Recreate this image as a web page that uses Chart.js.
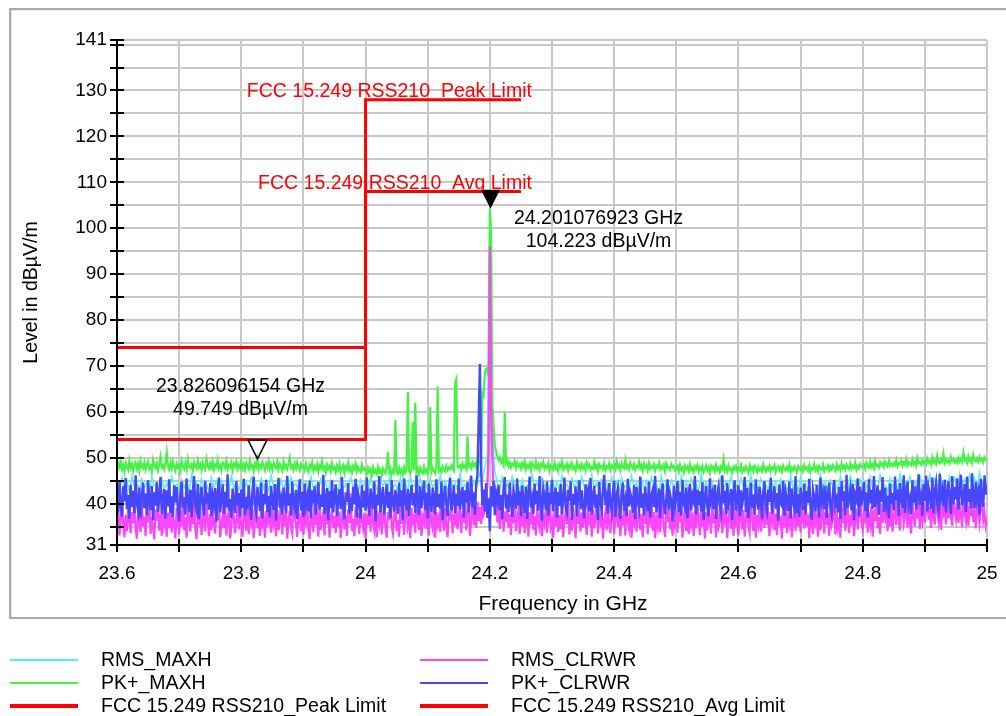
<!DOCTYPE html>
<html>
<head>
<meta charset="utf-8">
<title>Spectrum 23.6 - 25 GHz</title>
<script src="https://cdn.jsdelivr.net/npm/chart.js@4.4.1/dist/chart.umd.min.js"></script>
<style>
  body { margin: 0; background: #fff; font-family: "Liberation Sans", Arial, sans-serif; }
  #wrap { position: relative; width: 1006px; height: 716px; overflow: hidden; }
  #frame { position: absolute; left: 9px; top: 8px; width: 1010px; height: 607px;
           border: 2px solid #ababab; border-right: none; box-shadow: inset 1px 1px 0 #e6e6e6; }
  #spectrum { position: absolute; left: 0; top: 0; }
  #legend { position: absolute; left: 0; top: 648px; width: 1006px; }
  .item { position: absolute; height: 23px; display: flex; align-items: center; font-size: 19.5px; color: #000; }
  .item span.swatch { display: inline-block; width: 68px; margin-right: 23px; }
</style>
</head>
<body>
<div id="wrap">
  <div id="frame"></div>
  <canvas id="spectrum" width="1006" height="716"></canvas>
  <div id="legend"></div>
</div>
<script>
// sweep 23.6 .. 25 GHz; readings are spread evenly over the span
const F_START = 23.6;
const F_STOP = 25.0;

// RMS detector, max hold (4 MHz steps)
const rmsMaxh = [
  44.2, 42.8, 45.6, 43.1, 44.9, 42.5, 46.0, 43.7, 44.4, 42.9, 45.3, 43.4, 44.7, 42.6, 45.8, 43.9, 44.1, 42.7, 45.5, 43.2, 44.6, 43.0, 45.9, 43.6, 44.3,
  42.9, 45.2, 43.5, 44.8, 42.4, 46.2, 43.8, 44.5, 42.7, 45.4, 43.3, 44.0, 42.8, 45.7, 43.6, 44.9, 42.5, 45.1, 43.9, 44.3, 42.6, 46.1, 43.4, 44.7, 43.0,
  45.0, 43.2, 44.6, 42.7, 45.8, 43.9, 44.2, 42.5, 45.5, 43.4, 44.8, 42.9, 46.3, 43.6, 44.1, 42.8, 45.2, 43.1, 44.9, 42.6, 45.7, 43.8, 44.4, 42.7, 45.3,
  43.5, 44.7, 42.6, 45.9, 43.3, 44.2, 42.8, 45.4, 43.7, 44.6, 42.5, 45.1, 43.9, 44.0, 42.7, 46.0, 43.2, 44.5, 42.9, 45.6, 43.6, 44.3, 42.4, 45.2, 43.8,
  44.6, 42.9, 45.7, 43.3, 44.1, 42.6, 45.4, 43.8, 44.9, 42.7, 46.4, 43.5, 44.3, 42.8, 45.6, 43.1, 44.7, 42.5, 45.9, 43.7, 44.2, 42.9, 45.3, 43.4, 44.8,
  42.7, 45.5, 43.6, 44.4, 42.8, 46.1, 43.2, 44.9, 42.6, 45.8, 43.9, 44.5, 42.9, 46.6, 43.4, 44.2, 42.7, 45.4, 43.8, 45.0, 44.1, 46.8, 45.2, 48.0, 50.5,
  103.5, 56.0, 47.0, 44.6, 43.0, 45.7, 43.5, 44.3, 42.8, 45.9, 43.7, 44.8, 42.6, 45.2, 43.3, 44.0, 42.9, 46.2, 43.6, 44.5, 42.7, 45.6, 43.9, 44.2, 42.8,
  45.4, 43.2, 44.7, 42.6, 46.0, 43.8, 44.3, 42.9, 45.5, 43.4, 44.9, 42.7, 45.8, 43.6, 44.1, 42.5, 46.3, 43.1, 44.6, 42.8, 45.2, 43.9, 44.4, 42.6, 45.7,
  43.3, 44.8, 42.9, 45.6, 43.5, 44.2, 42.7, 46.1, 43.8, 44.5, 42.6, 45.3, 43.2, 44.9, 42.8, 45.8, 43.6, 44.0, 42.5, 46.0, 43.4, 44.6, 42.9, 45.1, 43.7,
  44.4, 42.7, 45.9, 43.1, 44.8, 42.6, 45.5, 43.9, 44.2, 42.8, 46.4, 43.4, 44.6, 42.5, 45.3, 43.7, 44.0, 42.9, 45.7, 43.2, 44.7, 42.6, 46.0, 43.5, 44.3,
  42.8, 45.6, 43.6, 44.5, 42.7, 46.2, 43.3, 44.8, 42.6, 45.4, 43.8, 44.1, 42.9, 45.9, 43.4, 44.7, 42.5, 45.2, 43.7, 44.3, 42.8, 46.1, 43.2, 44.9, 42.6,
  45.7, 43.5, 44.4, 42.8, 45.5, 43.9, 44.2, 42.6, 46.3, 43.2, 44.9, 42.7, 45.1, 43.6, 44.6, 42.9, 45.8, 43.4, 44.0, 42.5, 46.0, 43.8, 44.5, 42.7, 45.3,
  43.6, 44.7, 42.9, 45.9, 43.3, 44.4, 42.8, 46.2, 43.9, 44.1, 42.6, 45.6, 43.5, 44.8, 43.0, 46.4, 43.7, 44.3, 42.9, 45.8, 43.4, 44.9, 43.1, 46.1, 43.8,
  45.0, 43.5, 46.3, 44.1, 45.4, 43.2, 46.6, 44.3, 45.1, 43.6, 46.0, 44.5, 45.7, 43.4, 46.5, 44.0, 45.3, 43.8, 46.2, 44.4, 45.6, 43.3, 46.8, 44.2, 45.5,
  44.6
];

// positive peak detector, max hold (2 MHz steps)
const pkMaxh = [
  47.3, 48.8, 47.9, 49.2, 47.5, 48.4, 46.9, 48.9, 48.1, 47.4, 49.4, 47.8, 48.6, 47.1, 48.3, 49.0, 47.6, 48.7, 47.2, 49.3, 48.0, 47.7, 48.9, 47.4, 48.5,
  49.1, 47.6, 48.2, 47.0, 49.5, 48.4, 47.8, 48.8, 47.3, 48.6, 50.2, 47.9, 48.3, 47.5, 49.0, 51.2, 48.1, 47.4, 48.9, 47.7, 49.2, 48.0, 47.2, 48.7, 47.9,
  48.4, 47.1, 49.3, 48.2, 47.6, 48.8, 47.4, 49.6, 48.0, 47.8, 48.5, 47.2, 49.0, 48.3, 47.7, 49.4, 47.9, 48.6, 47.3, 48.9, 48.1, 47.5, 49.7, 48.2, 47.6,
  48.8, 47.9, 49.2, 47.4, 48.5, 48.0, 49.5, 47.7, 48.3, 47.2, 49.0, 48.6, 47.8, 49.3, 47.5, 48.4, 47.9, 48.9, 47.3, 48.7, 48.1, 49.1, 47.6, 48.5, 47.8,
  49.2, 47.7, 48.6, 47.4, 48.9, 48.2, 47.6, 49.4, 47.9, 48.3, 47.1, 48.8, 48.0, 49.6, 47.5, 48.4, 47.8, 49.0, 48.2, 47.3, 48.7, 47.9, 49.3, 47.6, 48.5,
  47.4, 48.9, 48.1, 47.7, 49.1, 47.5, 48.6, 48.0, 47.2, 49.2, 47.8, 48.4, 47.6, 48.8, 50.0, 47.9, 48.3, 47.4, 48.7, 47.7, 49.0, 48.1, 47.3, 48.6, 47.9,
  48.2, 47.3, 48.7, 47.6, 46.9, 48.4, 47.8, 49.0, 47.2, 48.1, 47.5, 48.6, 47.0, 48.3, 47.7, 49.2, 47.4, 48.0, 46.8, 48.5, 47.6, 48.2, 47.1, 48.8, 47.5,
  47.9, 46.9, 48.3, 47.4, 48.6, 47.0, 47.8, 48.4, 46.7, 48.1, 47.5, 48.9, 47.2, 47.9, 46.8, 48.2, 47.6, 48.7, 47.0, 48.0, 47.3, 46.9, 48.5, 47.4, 47.8,
  47.2, 46.4, 47.8, 46.9, 47.5, 46.3, 47.9, 46.7, 47.3, 46.5, 48.0, 46.8, 47.4, 46.2, 47.7, 47.0, 46.6, 48.1, 51.3, 46.9, 47.6, 46.4, 47.3, 46.8, 58.2,
  47.0, 46.5, 47.8, 46.7, 47.4, 46.3, 47.9, 46.8, 47.5, 64.4, 47.1, 46.6, 47.7, 57.8, 47.3, 62.0, 46.9, 47.6, 46.4, 47.8, 47.0, 46.6, 48.0, 46.8, 47.4,
  46.7, 47.5, 61.0, 46.9, 47.8, 47.1, 46.6, 47.9, 65.6, 47.2, 47.7, 46.9, 48.1, 47.4, 47.0, 48.2, 47.3, 47.9, 47.5, 48.3, 47.6, 47.2, 66.2, 67.1, 48.0,
  47.8, 48.4, 47.5, 48.7, 47.9, 48.3, 47.6, 54.7, 48.1, 48.6, 47.8, 49.0, 48.2, 48.8, 48.0, 49.3, 48.5, 50.5, 49.2, 64.0, 63.5, 68.8, 69.3, 68.6, 70.5,
  104.2, 99.0, 62.0, 56.5, 52.8, 51.4, 50.3, 49.5, 50.1, 48.9, 49.6, 48.6, 60.0, 48.8, 49.3, 48.2, 49.0, 47.9, 48.7, 48.3, 49.2, 47.8, 48.9, 48.1, 48.6,
  47.6, 48.8, 48.0, 49.1, 47.5, 48.4, 47.9, 48.7, 47.3, 48.9, 48.2, 47.7, 49.2, 47.8, 48.5, 47.4, 48.6, 48.1, 49.0, 47.6, 48.3, 47.9, 48.8, 47.2, 48.4,
  48.0, 47.5, 48.9, 47.7, 48.3, 47.1, 48.6, 48.0, 49.1, 47.4, 48.2, 47.8, 48.7, 47.3, 48.5, 47.9, 48.8, 47.6, 48.1, 47.2, 48.9, 47.8, 48.4, 47.5, 48.6,
  47.7, 48.3, 47.2, 48.9, 47.9, 48.5, 47.4, 48.0, 47.6, 49.0, 47.8, 48.4, 47.1, 48.6, 47.9, 48.2, 47.5, 48.8, 47.3, 48.1, 47.7, 48.7, 47.4, 48.3, 47.8,
  48.5, 47.6, 49.2, 47.9, 48.4, 47.3, 48.8, 48.0, 47.7, 49.5, 47.8, 48.3, 47.5, 48.9, 48.1, 47.6, 48.6, 47.4, 48.2, 47.9, 49.1, 47.7, 48.4, 47.2, 48.7,
  47.9, 48.4, 47.3, 48.8, 47.6, 48.1, 47.8, 48.6, 47.2, 48.3, 47.9, 48.9, 47.5, 48.2, 47.7, 48.5, 47.1, 48.7, 47.8, 48.0, 47.4, 48.6, 47.9, 48.2, 47.3,
  47.7, 48.2, 47.0, 48.5, 47.4, 47.9, 46.8, 48.3, 47.5, 48.0, 47.1, 48.6, 47.3, 47.8, 46.9, 48.1, 47.6, 48.4, 47.0, 47.9, 47.4, 48.2, 46.9, 47.7, 48.3,
  47.2, 47.9, 46.7, 48.2, 47.5, 48.0, 47.1, 48.4, 47.3, 47.8, 46.9, 48.1, 47.6, 49.6, 47.2, 47.9, 47.0, 48.3, 47.4, 47.7, 46.8, 48.0, 47.5, 48.2, 47.1,
  47.8, 47.3, 48.4, 46.9, 47.7, 47.2, 48.1, 47.5, 46.8, 48.3, 47.4, 47.9, 47.0, 48.2, 47.6, 46.9, 48.0, 47.3, 47.8, 47.1, 48.5, 47.5, 47.0, 47.9, 47.4,
  48.2, 47.1, 47.8, 47.5, 48.4, 46.9, 47.7, 48.1, 47.3, 47.9, 47.0, 48.3, 47.6, 47.2, 48.0, 47.4, 48.5, 46.9, 47.8, 47.3, 48.1, 47.5, 46.8, 48.2, 47.6,
  47.4, 48.0, 47.1, 48.4, 47.6, 47.9, 47.2, 48.3, 46.9, 47.8, 47.5, 48.6, 47.3, 48.0, 47.0, 48.2, 47.7, 47.4, 48.5, 47.1, 47.9, 47.6, 48.3, 47.2, 48.1,
  47.5, 48.4, 47.8, 47.2, 48.6, 47.6, 48.1, 47.3, 48.8, 47.7, 48.2, 47.4, 48.5, 47.9, 47.5, 48.7, 47.6, 48.3, 47.8, 48.9, 47.4, 48.2, 47.7, 48.6, 48.0,
  47.9, 48.5, 47.6, 48.9, 48.1, 47.8, 49.1, 48.0, 48.6, 47.7, 49.3, 48.2, 48.4, 47.9, 49.0, 48.3, 48.8, 48.0, 49.2, 48.5, 48.1, 49.4, 48.3, 48.7, 48.2,
  48.9, 48.4, 49.5, 48.1, 48.8, 48.6, 49.3, 48.2, 49.0, 48.5, 49.7, 48.3, 49.1, 48.7, 48.4, 49.6, 48.6, 49.2, 48.3, 49.9, 48.8, 49.0, 48.5, 49.4, 48.7,
  49.2, 48.6, 49.8, 48.9, 49.3, 48.5, 50.1, 49.0, 49.5, 48.7, 50.4, 49.1, 48.8, 49.7, 49.2, 50.9, 48.9, 49.6, 49.0, 49.4, 48.8, 50.2, 49.3, 49.7, 49.0,
  49.5, 48.9, 50.0, 49.2, 49.8, 49.1, 51.1, 49.4, 49.7, 48.9, 50.3, 49.3, 49.9, 49.0, 50.6, 49.5, 49.2, 49.8, 49.1, 50.2, 49.4, 49.7, 49.0, 50.1, 49.6,
  49.4
];

// RMS detector, clear/write (2 MHz steps)
const rmsClrwr = [
  34.6, 38.9, 33.1, 36.8, 40.4, 35.2, 32.7, 37.5, 34.0, 39.3, 36.1, 33.6, 38.2, 35.7, 41.0, 34.4, 32.4, 37.9, 36.5, 33.8, 39.8, 35.0, 37.2, 32.9, 38.5,
  35.9, 40.7, 33.4, 37.0, 34.8, 32.2, 38.7, 36.3, 39.9, 34.1, 37.7, 33.0, 41.5, 35.4, 36.9, 32.8, 38.0, 34.6, 40.1, 33.7, 37.4, 35.8, 32.5, 39.1, 36.0,
  33.3, 38.4, 35.1, 40.9, 34.2, 37.1, 32.6, 39.5, 36.6, 33.9, 38.1, 35.5, 42.0, 34.5, 32.3, 37.6, 36.2, 39.2, 33.2, 35.9, 38.8, 34.0, 40.3, 36.7, 32.9,
  37.8, 34.3, 39.7, 35.6, 33.5, 38.3, 36.4, 41.2, 32.7, 35.3, 37.3, 34.7, 40.0, 33.1, 36.8, 38.6, 32.4, 35.0, 39.4, 37.0, 33.6, 36.1, 40.6, 34.4, 38.0,
  35.2, 32.8, 39.0, 36.9, 34.1, 40.8, 33.4, 37.7, 35.8, 38.9, 32.5, 36.3, 41.4, 34.6, 37.2, 33.0, 39.6, 35.4, 36.7, 32.6, 38.4, 34.9, 40.2, 36.0, 33.7,
  39.1, 35.7, 37.5, 32.9, 38.8, 34.2, 36.5, 41.1, 33.3, 37.9, 35.1, 39.8, 32.4, 36.2, 38.5, 34.8, 33.5, 40.5, 37.1, 35.6, 32.7, 38.2, 36.8, 34.0, 39.3,
  33.2, 37.6, 35.9, 40.0, 34.5, 32.3, 38.6, 36.4, 33.8, 41.7, 35.3, 37.0, 32.8, 39.5, 34.3, 36.6, 38.1, 33.1, 40.4, 35.5, 37.8, 32.6, 36.9, 39.0, 34.7,
  37.3, 33.6, 39.9, 35.0, 38.3, 32.5, 36.1, 40.8, 34.4, 37.4, 33.0, 38.7, 35.8, 42.2, 34.1, 36.7, 32.9, 39.2, 35.2, 37.9, 33.4, 40.1, 36.3, 34.6, 38.0,
  32.4, 37.7, 35.4, 39.6, 33.9, 41.3, 36.0, 34.2, 38.5, 32.7, 37.1, 35.7, 40.7, 33.3, 36.8, 39.4, 34.8, 32.6, 38.2, 36.4, 42.5, 35.1, 33.5, 37.5, 39.7,
  34.0, 36.5, 32.8, 40.3, 35.6, 38.6, 33.2, 37.3, 41.0, 34.9, 36.2, 32.5, 39.1, 35.3, 37.8, 33.7, 40.9, 36.6, 34.3, 38.8, 32.9, 37.0, 35.9, 41.6, 34.5,
  37.6, 33.1, 39.3, 36.1, 34.6, 40.5, 32.6, 38.1, 35.5, 37.2, 33.8, 41.2, 36.7, 34.1, 39.0, 35.0, 32.7, 38.4, 36.3, 40.2, 33.5, 37.7, 35.2, 39.8, 34.4,
  36.9, 40.6, 33.6, 38.0, 35.8, 42.3, 34.2, 37.4, 39.6, 33.0, 36.4, 41.8, 35.3, 38.9, 34.7, 40.4, 36.2, 39.3, 35.6, 41.1, 37.6, 38.5, 40.9, 44.0, 52.0,
  96.0, 60.0, 50.0, 43.0, 38.7, 41.4, 35.9, 39.8, 34.5, 37.1, 42.0, 33.9, 38.3, 36.0, 40.8, 34.8, 37.7, 33.2, 39.4, 35.7, 41.3, 34.0, 36.8, 38.6, 33.4,
  37.9, 35.1, 40.1, 33.6, 36.5, 39.0, 32.8, 38.2, 35.4, 41.5, 34.3, 37.3, 33.1, 39.7, 36.1, 34.7, 40.6, 32.9, 37.8, 35.8, 38.8, 33.7, 36.7, 42.1, 34.9,
  36.2, 32.6, 38.9, 35.0, 40.3, 33.8, 37.5, 34.4, 39.9, 32.7, 36.6, 38.4, 35.5, 41.9, 33.3, 37.0, 34.1, 39.2, 36.4, 32.5, 40.0, 35.6, 37.6, 33.9, 38.1,
  34.8, 39.5, 36.0, 33.2, 41.2, 35.3, 37.9, 32.8, 38.7, 34.6, 36.9, 40.5, 33.5, 37.2, 35.9, 39.1, 32.4, 36.3, 38.3, 34.2, 42.4, 35.7, 33.6, 37.8, 39.6,
  33.4, 36.8, 40.7, 34.9, 38.0, 32.9, 37.4, 35.2, 39.3, 33.1, 41.0, 36.1, 34.5, 38.6, 32.6, 37.1, 35.8, 40.4, 33.9, 36.5, 39.0, 34.3, 37.7, 32.7, 38.8,
  35.6, 39.8, 33.3, 37.3, 36.2, 41.6, 34.1, 38.2, 32.5, 36.7, 35.1, 40.2, 33.8, 37.6, 39.4, 34.7, 32.8, 38.5, 36.0, 41.4, 34.4, 37.0, 33.0, 39.7, 35.4,
  37.2, 33.7, 40.9, 35.9, 38.4, 32.6, 36.4, 39.2, 34.0, 37.9, 33.4, 41.8, 35.5, 36.9, 32.9, 38.7, 34.6, 40.0, 36.6, 33.2, 39.5, 35.0, 37.4, 32.4, 38.1,
  34.2, 39.0, 36.3, 33.5, 40.6, 35.7, 37.7, 32.7, 38.9, 34.9, 36.0, 42.0, 33.6, 37.2, 35.3, 39.9, 32.5, 36.8, 38.3, 34.5, 41.2, 33.0, 37.6, 35.8, 39.3,
  33.1, 37.0, 40.4, 34.4, 38.6, 32.8, 36.5, 39.6, 35.2, 33.7, 41.5, 36.7, 34.1, 38.0, 32.6, 37.5, 35.6, 40.1, 33.9, 36.2, 39.1, 34.7, 42.3, 35.4, 37.3,
  32.9, 38.2, 36.1, 39.8, 34.3, 37.8, 33.2, 41.1, 35.9, 36.6, 32.4, 38.8, 34.8, 40.3, 33.6, 37.1, 35.5, 39.4, 32.7, 36.9, 38.5, 34.0, 40.8, 35.1, 37.4,
  33.8, 39.7, 36.4, 34.6, 41.3, 35.0, 37.7, 32.5, 38.3, 36.0, 33.4, 40.0, 35.8, 37.2, 32.8, 39.1, 34.2, 36.7, 41.7, 33.5, 38.1, 35.3, 37.9, 33.0, 39.6,
  35.5, 36.8, 40.7, 33.3, 38.4, 34.9, 37.0, 32.6, 39.3, 35.7, 41.9, 34.1, 36.3, 38.9, 33.6, 37.6, 35.2, 40.4, 32.9, 36.5, 39.0, 34.4, 37.8, 42.6, 35.9,
  34.3, 38.0, 36.6, 40.9, 33.7, 37.3, 35.4, 39.5, 32.8, 38.7, 36.2, 41.6, 34.6, 37.1, 33.4, 39.9, 35.8, 38.2, 36.9, 42.0, 34.0, 37.7, 35.1, 40.5, 33.9,
  37.5, 39.2, 35.3, 41.3, 36.4, 34.2, 38.6, 40.1, 35.6, 37.0, 42.4, 34.8, 38.9, 36.0, 33.5, 40.6, 37.4, 35.0, 39.7, 36.8, 41.0, 34.5, 38.3, 36.3, 40.2,
  35.9, 38.4, 41.8, 36.5, 39.3, 34.7, 40.7, 37.2, 35.4, 42.7, 38.1, 36.1, 40.0, 34.3, 39.0, 37.8, 41.4, 35.5, 38.8, 36.9, 43.1, 37.1, 35.2, 40.4, 38.5,
  36.7, 41.2, 35.8, 39.6, 37.6, 34.9, 42.0, 38.0, 36.2, 40.8, 35.1, 39.4, 37.3, 41.9, 36.0, 38.7, 34.6, 40.3, 37.9, 35.7, 39.1, 41.5, 36.4, 38.2, 35.3,
  37.0
];

// positive peak detector, clear/write (2 MHz steps)
const pkClrwr = [
  42.6, 38.1, 44.9, 39.7, 37.2, 43.8, 40.5, 45.6, 38.8, 41.9, 36.7, 44.1, 39.3, 42.8, 37.9, 46.2, 40.1, 38.4, 43.5, 36.9, 41.7, 44.6, 39.0, 42.2, 37.5,
  45.1, 40.8, 38.6, 43.9, 36.4, 42.5, 39.6, 44.7, 38.2, 41.3, 45.8, 37.7, 40.9, 43.2, 36.8, 42.9, 39.4, 45.3, 38.0, 41.6, 37.1, 44.0, 40.3, 43.6, 38.9,
  36.2, 42.1, 44.8, 39.1, 41.4, 37.6, 45.5, 40.6, 38.3, 43.0, 37.0, 42.7, 46.0, 39.8, 38.5, 44.3, 36.6, 41.1, 43.7, 39.5, 37.4, 45.0, 40.0, 42.4, 38.7,
  44.5, 37.3, 41.8, 39.9, 43.4, 36.1, 42.0, 45.7, 38.1, 40.7, 44.2, 37.8, 42.6, 39.2, 46.4, 38.6, 41.0, 36.9, 43.3, 40.4, 38.0, 44.9, 39.7, 42.3, 37.2,
  43.1, 39.0, 45.4, 37.5, 41.5, 38.8, 44.0, 40.2, 36.5, 42.8, 45.9, 39.4, 37.9, 43.6, 41.2, 38.4, 44.6, 36.8, 42.1, 40.0, 45.2, 38.2, 41.7, 37.0, 43.9,
  40.5, 38.6, 44.3, 36.3, 42.4, 45.6, 39.1, 41.0, 37.7, 43.5, 40.8, 38.0, 46.1, 39.6, 42.2, 37.4, 44.8, 40.3, 38.9, 43.0, 36.7, 41.9, 45.3, 38.5, 42.6,
  37.1, 44.4, 39.8, 41.6, 38.3, 45.0, 36.9, 42.9, 40.1, 43.8, 37.6, 41.3, 44.7, 38.7, 42.0, 39.3, 46.3, 37.8, 40.6, 43.4, 36.4, 42.7, 39.0, 45.1, 38.1,
  41.8, 44.2, 37.3, 40.9, 43.1, 38.8, 45.8, 39.5, 36.6, 42.5, 40.4, 44.5, 37.9, 41.2, 38.4, 43.7, 39.9, 45.4, 37.0, 42.3, 40.7, 36.8, 44.0, 39.2, 42.8,
  38.5, 45.7, 40.0, 37.4, 43.3, 41.5, 38.9, 44.9, 36.2, 42.0, 39.7, 46.0, 38.1, 41.4, 43.6, 37.6, 40.8, 44.3, 39.1, 42.6, 36.9, 45.2, 40.2, 38.3, 43.0,
  41.1, 37.8, 44.6, 39.4, 42.9, 36.5, 45.5, 40.6, 38.6, 43.2, 37.2, 41.7, 44.1, 39.6, 42.3, 38.0, 46.2, 40.9, 37.5, 43.8, 39.0, 41.9, 45.0, 38.7, 42.4,
  36.8, 44.4, 40.1, 38.2, 43.5, 41.3, 37.7, 45.3, 39.3, 42.1, 38.9, 44.8, 36.4, 41.6, 43.9, 39.8, 37.3, 42.7, 45.6, 38.4, 40.5, 44.0, 37.9, 42.2, 39.5,
  45.4, 38.8, 41.8, 43.6, 37.0, 42.9, 40.3, 44.7, 38.1, 41.4, 46.1, 39.2, 42.5, 37.6, 44.2, 46.4, 58.0, 70.4, 47.5, 39.7, 43.1, 38.3, 44.5, 36.9, 41.2,
  34.0, 43.8, 39.4, 45.0, 37.5, 42.3, 40.7, 44.1, 38.6, 41.9, 36.6, 43.4, 45.8, 39.0, 42.0, 38.2, 44.6, 40.4, 37.1, 43.0, 41.5, 38.9, 45.5, 39.6, 42.7,
  37.3, 44.0, 40.8, 38.0, 43.7, 36.7, 42.2, 45.9, 39.1, 41.1, 37.8, 44.4, 39.9, 42.8, 38.5, 46.0, 40.2, 36.3, 43.3, 41.7, 38.7, 44.8, 37.4, 42.4, 40.0,
  45.2, 38.4, 41.5, 43.5, 36.9, 42.6, 39.5, 44.3, 37.7, 41.0, 45.7, 39.2, 38.1, 43.1, 40.6, 44.9, 36.5, 42.1, 39.8, 43.8, 37.2, 41.8, 45.1, 38.8, 42.9,
  39.3, 36.8, 44.2, 40.9, 42.7, 38.3, 45.6, 37.6, 41.3, 43.9, 39.0, 42.0, 36.4, 44.7, 40.3, 38.6, 43.2, 46.3, 39.7, 41.6, 37.9, 44.5, 40.1, 38.2, 42.5,
  45.0, 37.1, 41.9, 43.4, 39.6, 36.7, 42.8, 44.6, 38.5, 40.7, 37.3, 45.4, 39.4, 42.3, 41.1, 38.0, 44.0, 36.6, 43.6, 40.5, 38.9, 45.9, 39.1, 42.2, 37.5,
  43.7, 40.2, 38.4, 44.8, 37.0, 41.7, 42.9, 39.3, 46.1, 38.1, 40.8, 43.3, 36.9, 42.4, 44.4, 39.9, 37.7, 41.2, 45.3, 38.7, 42.0, 40.4, 36.2, 43.9, 39.5,
  41.4, 44.9, 38.2, 42.6, 37.4, 45.2, 40.0, 39.0, 43.5, 36.8, 42.1, 44.3, 38.6, 41.8, 40.6, 46.0, 37.6, 43.0, 39.7, 42.7, 38.3, 44.7, 36.5, 41.5, 43.8,
  39.2, 37.2, 45.5, 40.7, 42.2, 38.8, 44.1, 36.7, 41.9, 43.6, 39.4, 38.0, 46.2, 40.1, 42.8, 37.8, 44.5, 39.6, 41.0, 43.2, 36.4, 42.5, 45.1, 38.5, 40.9,
  44.0, 37.3, 42.9, 39.8, 41.6, 45.8, 38.2, 43.4, 36.9, 40.3, 44.6, 39.1, 42.0, 37.6, 45.3, 40.8, 38.7, 43.7, 41.3, 36.6, 42.7, 44.9, 39.3, 38.1, 43.1,
  40.4, 45.6, 37.9, 41.7, 43.8, 38.9, 42.3, 36.3, 44.2, 40.0, 39.5, 45.0, 37.4, 42.6, 41.1, 38.4, 44.8, 36.8, 43.3, 40.6, 39.0, 46.0, 38.0, 42.1, 37.1,
  43.5, 41.6, 38.6, 44.4, 37.7, 42.8, 40.2, 45.4, 39.2, 36.5, 43.0, 41.4, 38.3, 44.1, 39.9, 37.0, 45.7, 40.7, 42.4, 38.8, 43.9, 36.9, 41.8, 44.6, 39.4,
  37.8, 42.2, 45.2, 39.7, 41.0, 38.1, 43.6, 36.6, 44.9, 40.5, 42.7, 37.5, 46.3, 39.0, 41.5, 43.2, 38.5, 44.3, 36.4, 42.0, 40.9, 45.5, 37.2, 43.7, 39.6,
  41.9, 44.7, 38.4, 42.5, 37.0, 45.3, 40.1, 43.0, 38.9, 46.0, 39.3, 41.2, 44.0, 37.6, 42.9, 40.4, 45.8, 38.2, 43.5, 39.8, 41.7, 36.8, 44.4, 40.0, 42.3,
  38.6, 45.9, 40.7, 43.1, 37.3, 44.5, 41.4, 39.1, 46.2, 38.0, 42.6, 44.8, 39.5, 41.0, 37.7, 45.1, 40.2, 43.8, 38.8, 42.1, 46.4, 39.7, 41.6, 37.4, 44.2,
  40.6, 46.1, 38.3, 43.4, 41.8, 39.0, 45.7, 37.9, 42.8, 44.6, 40.0, 38.5, 46.5, 41.3, 43.0, 39.4, 45.2, 38.1, 42.4, 44.9, 40.8, 37.8, 46.0, 39.9, 43.6,
  41.0, 45.5, 38.7, 42.9, 46.3, 39.6, 41.5, 44.3, 38.2, 45.9, 40.4, 43.2, 39.1, 46.6, 41.7, 38.9, 44.7, 40.9, 42.6, 37.6, 45.4, 41.2, 39.3, 46.2, 42.0,
  44.1
];

// FCC 15.249 / RSS-210 limit lines (GHz, dBuV/m)
const peakLimitFreq = [23.6, 24.0, 24.0, 24.25];
const peakLimitLevel = [74, 74, 128, 128];
const avgLimitFreq = [23.6, 24.0, 24.0, 24.25];
const avgLimitLevel = [54, 54, 108, 108];

// markers
const markerFreq = [24.201076923, 23.826096154];
const markerLevel = [104.223, 49.749];
const markerFilled = [true, false];

// axis ticks
const xTicks = [23.6, 23.7, 23.8, 23.9, 24.0, 24.1, 24.2, 24.3, 24.4, 24.5, 24.6, 24.7, 24.8, 24.9, 25.0];
const xLabelTicks = [23.6, 23.8, 24.0, 24.2, 24.4, 24.6, 24.8, 25.0];
const yTicks = [31, 35, 40, 45, 50, 55, 60, 65, 70, 75, 80, 85, 90, 95, 100, 105, 110, 115, 120, 125, 130, 135, 140, 141];
const yLabelTicks = [31, 40, 50, 60, 70, 80, 90, 100, 110, 120, 130, 141];

const FONT = '"Liberation Sans", Arial, sans-serif';

function sweep(values) {
  const step = (F_STOP - F_START) / (values.length - 1);
  return values.map((v, i) => ({ x: F_START + i * step, y: v }));
}
function pairs(xs, ys) {
  return xs.map((f, i) => ({ x: f, y: ys[i] }));
}
const same = (a, b) => Math.abs(a - b) < 1e-6;

function trace(label, values, color, width, order) {
  return { label, data: sweep(values), borderColor: color, backgroundColor: color,
           borderWidth: width, pointRadius: 0, tension: 0, order, legendWidth: 2 };
}
function limit(label, xs, ys, order) {
  return { label, data: pairs(xs, ys), borderColor: '#ff0000', backgroundColor: '#ff0000',
           borderWidth: 3, pointRadius: 0, tension: 0, order, legendWidth: 4 };
}

// order: lower numbers are painted on top
const datasets = [
  trace('RMS_MAXH', rmsMaxh, '#48f4f4', 1.5, 5),
  trace('PK+_MAXH', pkMaxh, '#46f246', 2.2, 4),
  limit('FCC 15.249 RSS210_Peak Limit', peakLimitFreq, peakLimitLevel, 0),
  trace('RMS_CLRWR', rmsClrwr, '#f846f8', 2.2, 3),
  trace('PK+_CLRWR', pkClrwr, '#4646fa', 2.4, 2),
  limit('FCC 15.249 RSS210_Avg Limit', avgLimitFreq, avgLimitLevel, 1)
];

// axis lines with crossing ticks, x title, limit captions and markers
const decorations = {
  id: 'decorations',
  afterDatasetsDraw(chart) {
    const { ctx, chartArea: a, scales: { x, y } } = chart;
    ctx.save();

    ctx.strokeStyle = '#000';
    ctx.lineWidth = 2;
    ctx.beginPath();
    ctx.moveTo(a.left, a.top);
    ctx.lineTo(a.left, a.bottom);
    ctx.lineTo(a.right, a.bottom);
    yTicks.forEach(v => {
      const py = Math.round(y.getPixelForValue(v));
      ctx.moveTo(a.left - 7, py);
      ctx.lineTo(a.left + 7, py);
    });
    xTicks.forEach(v => {
      const px = Math.round(x.getPixelForValue(v));
      ctx.moveTo(px, a.bottom - 6);
      ctx.lineTo(px, a.bottom + 7);
    });
    ctx.stroke();

    ctx.fillStyle = '#000';
    ctx.font = '21px ' + FONT;
    ctx.textAlign = 'center';
    ctx.textBaseline = 'middle';
    ctx.fillText('Frequency in GHz', (a.left + a.right) / 2 + 11, a.bottom + 59);

    // limit captions, right aligned just past the end of each line
    ctx.font = '19.5px ' + FONT;
    ctx.fillStyle = '#ff0000';
    ctx.textAlign = 'right';
    ctx.textBaseline = 'alphabetic';
    [[peakLimitFreq, peakLimitLevel, 'FCC 15.249 RSS210  Peak Limit'],
     [avgLimitFreq, avgLimitLevel, 'FCC 15.249 RSS210  Avg Limit']].forEach(([fs, ls, text]) => {
      const n = fs.length - 1;
      ctx.fillText(text, x.getPixelForValue(fs[n]) + 11, y.getPixelForValue(ls[n]) - 3);
    });

    // markers: triangle with its tip on the reading
    ctx.fillStyle = '#000';
    ctx.strokeStyle = '#000';
    ctx.lineWidth = 1.5;
    ctx.textAlign = 'center';
    ctx.textBaseline = 'middle';
    const labelOffsets = [[108, 10, 33], [-17, -72, -49]];
    markerFreq.forEach((f, i) => {
      const px = x.getPixelForValue(f);
      const py = y.getPixelForValue(markerLevel[i]);
      ctx.beginPath();
      ctx.moveTo(px, py);
      ctx.lineTo(px - 9.5, py - 19);
      ctx.lineTo(px + 9.5, py - 19);
      ctx.closePath();
      if (markerFilled[i]) ctx.fill(); else ctx.stroke();
      const [dx, dy1, dy2] = labelOffsets[i];
      ctx.fillText(f.toFixed(9) + ' GHz', px + dx, py + dy1);
      ctx.fillText(markerLevel[i].toFixed(3) + ' dB\u00b5V/m', px + dx, py + dy2);
    });
    ctx.restore();
  }
};

Chart.defaults.font.family = FONT;
Chart.defaults.color = '#000';

const chart = new Chart(document.getElementById('spectrum'), {
  type: 'line',
  data: { datasets },
  options: {
    responsive: false,
    animation: false,
    events: [],
    layout: { padding: { left: 16, top: 40, right: 19, bottom: 96 } },
    plugins: { legend: { display: false }, tooltip: { enabled: false } },
    scales: {
      x: {
        type: 'linear',
        min: F_START,
        max: F_STOP,
        afterBuildTicks: s => { s.ticks = xTicks.map(v => ({ value: v })); },
        afterFit: s => { s.height = 75; s.paddingLeft = 0; s.paddingRight = 0; },
        ticks: {
          autoSkip: false,
          maxRotation: 0,
          padding: 17,
          font: { size: 19 },
          callback: v => xLabelTicks.some(t => same(t, v)) ? String(+v.toFixed(1)) : ''
        },
        grid: { color: '#c8c8c8', lineWidth: 2, drawTicks: false },
        border: { display: false }
      },
      y: {
        type: 'linear',
        min: 31,
        max: 141,
        afterBuildTicks: s => { s.ticks = yTicks.map(v => ({ value: v })); },
        afterFit: s => { s.width = 101; },
        ticks: {
          autoSkip: false,
          padding: 10,
          font: { size: 19 },
          callback: v => yLabelTicks.includes(v) ? String(v) : ''
        },
        grid: { color: '#c8c8c8', lineWidth: 2, drawTicks: false },
        border: { display: false },
        title: { display: true, text: 'Level in dB\u00b5V/m', font: { size: 19.5 }, padding: { top: 4, bottom: 4 } }
      }
    }
  },
  plugins: [decorations]
});

// two column legend under the frame
const legend = document.getElementById('legend');
chart.data.datasets.forEach((ds, i) => {
  const col = Math.floor(i / 3), row = i % 3;
  const item = document.createElement('div');
  item.className = 'item';
  item.style.left = (10 + col * 410) + 'px';
  item.style.top = (row * 23) + 'px';
  const sw = document.createElement('span');
  sw.className = 'swatch';
  sw.style.height = ds.legendWidth + 'px';
  sw.style.background = ds.borderColor;
  item.appendChild(sw);
  item.appendChild(document.createTextNode(ds.label));
  legend.appendChild(item);
});
</script>
</body>
</html>
